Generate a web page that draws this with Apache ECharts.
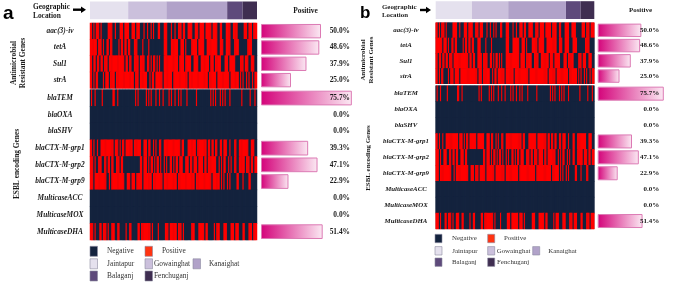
<!DOCTYPE html>
<html>
<head>
<meta charset="utf-8">
<script src="https://cdn.jsdelivr.net/npm/echarts@6/dist/echarts.min.js"></script>
<style>
  html, body { margin: 0; padding: 0; background: #fff; }
  #chart { width: 685px; height: 282px; }
</style>
</head>
<body>
<div id="chart"></div>
<script>
// isolates (columns of the heatmap)
const isolates = Array.from({ length: 140 }, (_, i) => i + 1);

const amrGenes = ['aac(3)-iv', 'tetA', 'Sul1', 'strA'];
const esblGenes = ['blaTEM', 'blaOXA', 'blaSHV', 'blaCTX-M-grp1', 'blaCTX-M-grp2',
  'blaCTX-M-grp9', 'MulticaseACC', 'MulticaseMOX', 'MulticaseDHA'];

// 1 = positive (red), 0 = negative (navy)
const amrRows = [
  '1101011101 0000011110 0100011101 1110011101 1100010010 0101000110 0011100010 0100111011 0011110011 1011110111 1101111001 1000111100 1111000001 1101110111',
  '1111110111 0100110110 0000101101 1011000111 0000100001 0000000000 0011100011 1111001110 1000011111 0111110011 1111111001 1100111100 0111100000 0011110000',
  '1101101101 1011101111 1111111110 1101100111 1011110011 0101101010 0011111111 1111011110 1111100111 1001111111 0111011111 0001110111 1100001110 1110011100',
  '1101011000 0101110111 1011111111 1111111011 1011111100 1011011111 1011111110 1111111111 1101111111 1111111110 1111110111 1111111011 1111101010 0101001011'
];
const esblRows = [
  '0100100000 1000000001 1001000000 0000000010 1000000101 0100010010 0100001010 0100101000 0100000001 0000000000 0101010001 0101000100 0000000100 0000100010',
  '0000000000 0000000000 0000000000 0000000000 0000000000 0000000000 0000000000 0000000000 0000000000 0000000000 0000000000 0000000000 0000000000 0000000000',
  '0000000000 0000000000 0000000000 0000000000 0000000000 0000000000 0000000000 0000000000 0000000000 0000000000 0000000000 0000000000 0000000000 0000000000',
  '1101001001 1111111111 0111010110 1111110111 1110011101 1001010011 0011111111 1111110110 0011111110 1111111101 1011011001 1011100100 0110011111 1110011100',
  '1110100111 0011011011 0011101100 0000000000 0011011101 0110101101 0010100110 1011011100 1110110111 0111101101 1111110010 1011001010 0110011111 0111011011',
  '1110111111 1111001011 1111111110 0111011101 1111011111 1101111111 1011111111 1110111111 1111111101 1111111111 1101111110 1010010100 0001100010 0001100000',
  '0000000000 0000000000 0000000000 0000000000 0000000000 0000000000 0000000000 0000000000 0000000000 0000000000 0000000000 0000000000 0000000000 0000000000',
  '0000000000 0000000000 0000000000 0000000000 0000000000 0000000000 0000000000 0000000000 0000000000 0000000000 0000000000 0000000000 0000000000 0000000000',
  '1110100011 0111010011 1001100000 1001100000 1101111111 1010000100 0001110111 1110111010 0000011100 0111110110 0000101110 0011100011 1011100011 0001110111'
];

const amrPct = [50.0, 48.6, 37.9, 25.0];
const esblPct = [75.7, 0.0, 0.0, 39.3, 47.1, 22.9, 0.0, 0.0, 51.4];

const regions = ['Jaintapur', 'Gowainghat', 'Kanaighat', 'Balaganj', 'Fenchuganj'];
const regionCounts = [32, 32, 51, 13, 12];

const legendNames = ['Negative', 'Positive'].concat(regions);

// colours
const serif = "'Liberation Serif', 'Times New Roman', serif";
const ink = '#1a1a1a';
const negColor = '#14233e';
const posColor = '#ff0000';
const regionColors = ['#e5e1ee', '#cbc0dc', '#b1a2c9', '#5e4a7b', '#3f2e51'];
const legendColors = [negColor, '#ff3311'].concat(regionColors);

// panel layouts (pixels)
const panels = [
  {
    letter: 'a', letterX: 3, letterY: 14, letterSize: 19,
    hmLeft: 90, hmWidth: 167, geoTop: 1.5, geoH: 17.8,
    amrTop: 23, amrH: 65.3, esblTop: 89.7, esblH: 150.3,
    barLeft: 261, barScale: 120, labelRight: 350, geneCenter: 60,
    font: 7.4, pctFont: 7.4,
    headX: 33, headY: [7.3, 16], arrow: [73, 86, 9.7],
    posX: 305.5, posY: 11.3,
    amrLabel: [19, 63], esblLabel: [17, 164],
    sw: 7.5, sh: 10, rows: [251.3, 263.8, 276],
    items: [[0, 90, 107], [0, 145, 162], [1, 90, 107], [1, 145, 154], [1, 193, 209], [2, 90, 107], [2, 145, 154]]
  },
  {
    letter: 'b', letterX: 360, letterY: 13, letterSize: 17,
    hmLeft: 435.7, hmWidth: 158.6, geoTop: 1.2, geoH: 17.8,
    amrTop: 22.7, amrH: 61, esblTop: 85.7, esblH: 143.3,
    barLeft: 597.7, barScale: 112, labelRight: 684, geneCenter: 406,
    font: 6.9, pctFont: 7,
    headX: 382, headY: [7, 15], arrow: [420, 431, 10],
    posX: 640.5, posY: 10.7,
    amrLabel: [367.5, 60], esblLabel: [368, 158],
    sw: 7, sh: 8.4, rows: [238.5, 250.8, 262.2],
    items: [[0, 435, 452], [0, 487.7, 504], [1, 435, 452.3], [1, 487.7, 496.7], [1, 532.7, 548.3], [2, 435, 452], [2, 487.7, 497]]
  }
];

const grid = [], xAxis = [], yAxis = [], series = [], graphic = [];
const heatIdx = [];

function addPanel(p) {
  const g = grid.length;
  // heatmap grids get a navy background so cell seams do not show
  const heatGrid = (top, height) => ({
    left: p.hmLeft, top, width: p.hmWidth, height,
    show: true, backgroundColor: negColor, borderWidth: 0
  });
  grid.push(
    { left: p.hmLeft, top: p.geoTop, width: p.hmWidth, height: p.geoH },
    heatGrid(p.amrTop, p.amrH),
    heatGrid(p.esblTop, p.esblH),
    { left: p.barLeft, top: p.amrTop, width: p.barScale, height: p.amrH },
    { left: p.barLeft, top: p.esblTop, width: p.barScale, height: p.esblH }
  );

  // geographic location strip
  xAxis.push({ gridIndex: g, type: 'value', min: 0, max: isolates.length, show: false });
  yAxis.push({ gridIndex: g, type: 'category', data: ['Location'], show: false });
  regions.forEach((name, i) => {
    series.push({
      name, type: 'bar', stack: 'loc' + g, xAxisIndex: g, yAxisIndex: g,
      barWidth: '100%', silent: true,
      data: [regionCounts[i]],
      itemStyle: { color: regionColors[i] }
    });
  });

  // gene heatmaps
  [[amrGenes, amrRows], [esblGenes, esblRows]].forEach(([genes, rows], k) => {
    const gi = g + 1 + k;
    xAxis.push({ gridIndex: gi, type: 'category', data: isolates, show: false });
    yAxis.push({
      gridIndex: gi, type: 'category', data: genes, inverse: true,
      axisLine: { show: false }, axisTick: { show: false }, splitLine: { show: false },
      axisLabel: {
        interval: 0, margin: p.hmLeft - p.geneCenter, align: 'center',
        fontFamily: serif, fontStyle: 'italic', fontWeight: 'bold', fontSize: p.font, color: ink
      }
    });
    const data = [];
    rows.forEach((row, r) => {
      row.replace(/ /g, '').split('').forEach((v, c) => data.push([c, r, +v]));
    });
    heatIdx.push(series.length);
    series.push({ type: 'heatmap', xAxisIndex: gi, yAxisIndex: gi, data, silent: true });
  });

  // percentage bars
  [[amrGenes, amrPct], [esblGenes, esblPct]].forEach(([genes, pct], k) => {
    const gi = g + 3 + k;
    xAxis.push({ gridIndex: gi, type: 'value', min: 0, max: 100, show: false });
    yAxis.push({
      gridIndex: gi, type: 'category', data: genes, inverse: true, position: 'right', z: 5,
      axisLine: { show: false }, axisTick: { show: false }, splitLine: { show: false },
      axisLabel: {
        interval: 0, margin: p.labelRight - p.barLeft - p.barScale, align: 'right',
        formatter: (v, i) => pct[i].toFixed(1) + '%',
        fontFamily: serif, fontWeight: 'bold', fontSize: p.pctFont, color: ink
      }
    });
    series.push({
      type: 'bar', xAxisIndex: gi, yAxisIndex: gi, barCategoryGap: '12%', silent: true,
      data: pct.map(v => (v > 0 ? v : '-')),
      itemStyle: {
        color: new echarts.graphic.LinearGradient(0, 0, 1, 0, [
          { offset: 0, color: '#d4037a' },
          { offset: 1, color: '#fbe9f3' }
        ]),
        borderColor: '#dc7ab4',
        borderWidth: 1
      }
    });
  });

  // texts and legend
  const txt = (text, x, y, size, extra) => ({
    type: 'text', x, y, silent: true,
    style: Object.assign({ text, fontFamily: serif, fontWeight: 'bold', fontSize: size, fill: ink, verticalAlign: 'middle' }, extra)
  });
  graphic.push(
    txt(p.letter, p.letterX, p.letterY, p.letterSize, { fontFamily: "'Liberation Sans', Arial, sans-serif", fill: '#000' }),
    txt('Geographic', p.headX, p.headY[0], p.font),
    txt('Location', p.headX, p.headY[1], p.font),
    txt('Positive', p.posX, p.posY, p.font, { align: 'center' }),
    {
      type: 'line', silent: true,
      shape: { x1: p.arrow[0], y1: p.arrow[2], x2: p.arrow[1] - 4, y2: p.arrow[2] },
      style: { stroke: '#000', lineWidth: 2.4 }
    },
    {
      type: 'polygon', silent: true,
      shape: { points: [[p.arrow[1] - 5, p.arrow[2] - 3.3], [p.arrow[1], p.arrow[2]], [p.arrow[1] - 5, p.arrow[2] + 3.3]] },
      style: { fill: '#000' }
    },
    Object.assign(txt('Antimicrobial\nResistant Genes', p.amrLabel[0], p.amrLabel[1], p.font, { align: 'center', lineHeight: p.font + 1.5 }), { rotation: Math.PI / 2 }),
    Object.assign(txt('ESBL encoding Genes', p.esblLabel[0], p.esblLabel[1], p.font, { align: 'center' }), { rotation: Math.PI / 2 })
  );
  legendNames.forEach((name, i) => {
    const [row, sx, tx] = p.items[i];
    const cy = p.rows[row];
    graphic.push(
      {
        type: 'rect', silent: true,
        shape: { x: sx, y: cy - p.sh / 2, width: p.sw, height: p.sh },
        style: { fill: legendColors[i], stroke: '#8c8aa0', lineWidth: 0.6 }
      },
      txt(name, tx, cy, p.font, { fontWeight: 'normal', fill: '#333' })
    );
  });
}

panels.forEach(addPanel);

const chart = echarts.init(document.getElementById('chart'));
chart.setOption({
  animation: false,
  backgroundColor: '#fff',
  grid, xAxis, yAxis, series, graphic,
  visualMap: {
    type: 'piecewise', show: false, dimension: 2, seriesIndex: heatIdx,
    pieces: [{ value: 0, color: negColor }, { value: 1, color: posColor }]
  }
});
</script>
</body>
</html>
